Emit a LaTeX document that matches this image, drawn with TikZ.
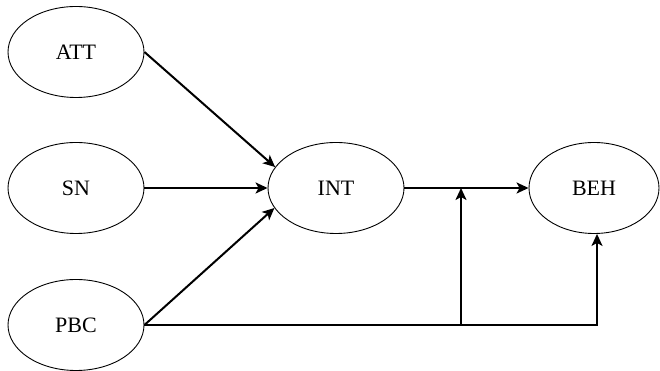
\documentclass[tikz,border=0pt]{standalone}
\usepackage{fontspec}
\setmainfont{Liberation Serif}
\usetikzlibrary{arrows.meta,shapes.geometric}

\begin{document}
\begin{tikzpicture}[x=1pt, y=1pt,
  every node/.style={font=\fontsize{22}{26}\selectfont},
  constructo/.style={ellipse, draw, line width=0.9pt, minimum width=136pt, minimum height=91pt},
  flecha/.style={line width=2pt, -{Stealth[length=12pt, width=11pt, inset=3pt]}},
  linea/.style={line width=2pt}]
\useasboundingbox (0,0) rectangle (660,371);
% predictores a la izquierda
\node[constructo] (att) at (76,319) {ATT};
\node[constructo] (sn)  at (76,183) {SN};
\node[constructo] (pbc) at (76,46)  {PBC};
% intencion y conducta
\node[constructo] (int) at (336,183) {INT};
\node[constructo, minimum width=130pt] (beh) at (594,183) {BEH};
\coordinate (cruce) at (461,183);

\draw[flecha] (att.east) -- (int.161);
\draw[flecha] (sn.east) -- (int.west);
\draw[flecha] (pbc.east) -- (int.198);
\draw[flecha] (int.east) -- (beh.west);
% control percibido directo a la conducta
\draw[flecha] (pbc.east) -- ([xshift=3pt]beh.south |- pbc.east) -- ([xshift=3pt]beh.south);
\draw[flecha] (cruce |- pbc.east) -- (cruce);
\end{tikzpicture}
\end{document}
